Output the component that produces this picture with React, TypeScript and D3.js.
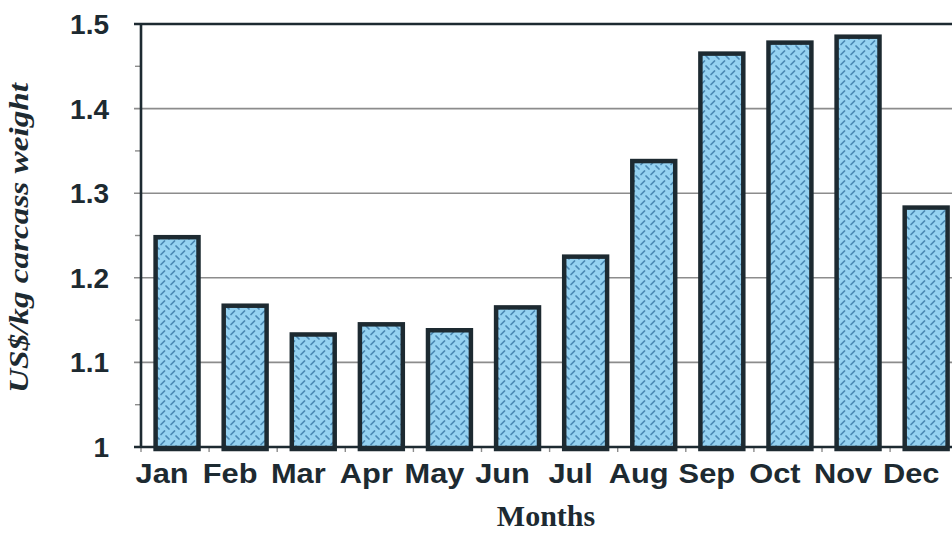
import React from "react";
import * as d3 from "d3";

// Monthly prices, US$/kg carcass weight
const months = ["Jan", "Feb", "Mar", "Apr", "May", "Jun", "Jul", "Aug", "Sep", "Oct", "Nov", "Dec"];
const prices = [1.248, 1.167, 1.133, 1.145, 1.138, 1.165, 1.225, 1.338, 1.465, 1.478, 1.485, 1.283];
const majorTicks = [1, 1.1, 1.2, 1.3, 1.4, 1.5];
const minorTicks = [1.05, 1.15, 1.25, 1.35, 1.45];
const tickLabels = ["1", "1.1", "1.2", "1.3", "1.4", "1.5"];

const W = 952;
const H = 533;
const left = 141;
const top = 24;
const bottom = 447;

const ink = "#1d2a31";

export default function App() {
  const x = d3.scaleBand<string>().domain(months).range([left, left + 12 * 68.1]).padding(0);
  const y = d3.scaleLinear().domain([1, 1.5]).range([bottom, top]);
  const barW = x.bandwidth() * 0.63;

  return (
    <svg
      width={W}
      height={H}
      style={{ position: "absolute", left: 0, top: 0, background: "#fff" }}
    >
      <defs>
        <pattern id="plate" width="10" height="10" patternUnits="userSpaceOnUse">
          <rect width="10" height="10" fill="#95d2f1" />
          <path d="M1,4.5 L4.5,1" stroke="#4a88b3" strokeWidth="1.7" strokeLinecap="round" />
          <path d="M6,6 L9,9" stroke="#4a88b3" strokeWidth="1.7" strokeLinecap="round" />
        </pattern>
      </defs>

      {/* horizontal gridlines */}
      {majorTicks.slice(1, 5).map((t) => (
        <line key={t} x1={left - 7} x2={W} y1={y(t)} y2={y(t)} stroke="#8c8c8c" strokeWidth={1.6} />
      ))}
      {/* top frame line */}
      <line x1={left - 7} x2={W} y1={y(1.5)} y2={y(1.5)} stroke={ink} strokeWidth={2.6} />

      {/* minor ticks */}
      {minorTicks.map((t) => (
        <line key={t} x1={left - 6} x2={left} y1={y(t)} y2={y(t)} stroke="#8c8c8c" strokeWidth={1.4} />
      ))}

      {/* category boundary ticks */}
      {months.map((m) => (
        <line key={m} x1={x(m)!} x2={x(m)!} y1={bottom} y2={bottom + 5} stroke="#8c8c8c" strokeWidth={1.4} />
      ))}

      {/* bars */}
      {months.map((m, i) => (
        <rect
          key={m}
          x={x(m)! + (x.bandwidth() - barW) / 2 + 2}
          y={y(prices[i])}
          width={barW}
          height={bottom + 2 - y(prices[i])}
          fill="url(#plate)"
          stroke={ink}
          strokeWidth={4.5}
        />
      ))}

      {/* axes */}
      <line x1={left} x2={left} y1={top} y2={bottom} stroke={ink} strokeWidth={2.6} />
      <line x1={left - 7} x2={W} y1={bottom} y2={bottom} stroke={ink} strokeWidth={2.6} />

      {/* y tick labels */}
      {majorTicks.map((t, i) => (
        <text
          key={t}
          x={109}
          y={y(t)}
          dy="0.36em"
          textAnchor="end"
          fontFamily="Liberation Sans, Arial, sans-serif"
          fontWeight="bold"
          fontSize={28}
          fill={ink}
        >
          {tickLabels[i]}
        </text>
      ))}

      {/* x tick labels */}
      {months.map((m) => (
        <text
          key={m}
          transform={`translate(${x(m)! + x.bandwidth() / 2 - 13},483) scale(1.1,1)`}
          textAnchor="middle"
          fontFamily="Liberation Sans, Arial, sans-serif"
          fontWeight="bold"
          fontSize={28}
          fill={ink}
        >
          {m}
        </text>
      ))}

      {/* axis titles */}
      <text
        x={546}
        y={526}
        textAnchor="middle"
        fontFamily="Liberation Serif, Times New Roman, serif"
        fontWeight="bold"
        fontSize={30}
        fill={ink}
      >
        Months
      </text>
      <text
        transform="translate(28,238) rotate(-90)"
        textAnchor="middle"
        fontFamily="Liberation Serif, Times New Roman, serif"
        fontWeight="bold"
        fontStyle="italic"
        fontSize={27}
        textLength={310}
        lengthAdjust="spacingAndGlyphs"
        fill={ink}
      >
        US$/kg carcass weight
      </text>
    </svg>
  );
}
